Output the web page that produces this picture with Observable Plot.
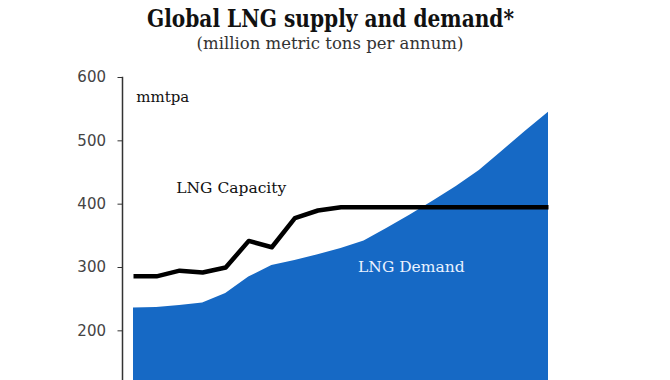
<!DOCTYPE html>
<html>
<head>
<meta charset="utf-8">
<script src="https://cdn.jsdelivr.net/npm/d3@7"></script>
<script src="https://cdn.jsdelivr.net/npm/@observablehq/plot@0.6"></script>
<style>
  html, body { margin: 0; padding: 0; background: #fff; overflow: hidden; }
  #page { width: 670px; height: 380px; overflow: hidden; position: relative; }
  #header { height: 60px; text-align: center; box-sizing: border-box; padding-top: 5px; }
  #title { font-family: "DejaVu Serif", serif; font-weight: bold; font-size: 24px; color: #111; line-height: 27px; display: inline-block; transform: scaleX(0.84); transform-origin: center; position: relative; left: -5px; white-space: nowrap; }
  #subtitle { font-family: "DejaVu Serif", serif; font-size: 16.5px; color: #333; line-height: 20px; position: relative; left: -5px; top: 2px; white-space: nowrap; }
  #chart { height: 320px; overflow: hidden; }
</style>
</head>
<body>
<div id="page">
  <div id="header">
    <div id="title">Global LNG supply and demand*</div>
    <div id="subtitle">(million metric tons per annum)</div>
  </div>
  <div id="chart"></div>
</div>
<script>
const years = [2012, 2013, 2014, 2015, 2016, 2017, 2018, 2019, 2020, 2021, 2022, 2023, 2024, 2025, 2026, 2027, 2028, 2029, 2030];
const capacity = [286, 286, 295, 292, 300, 342, 332, 378, 390, 395, 395, 395, 395, 395, 395, 395, 395, 395, 395];
const demand = [236, 237, 240, 244, 259, 285, 303, 311, 320, 330, 342, 362, 383, 405, 428, 453, 484, 515, 545];
const yTicks = [200, 300, 400, 500, 600];
const unitLabel = "mmtpa";
const capacityLabel = "LNG Capacity";
const demandLabel = "LNG Demand";

const rows = years.map((year, i) => ({year, capacity: capacity[i], demand: demand[i]}));

const chart = Plot.plot({
  width: 670,
  height: 437,
  marginTop: 17,
  marginBottom: 40,
  marginLeft: 122,
  marginRight: 122,
  insetLeft: 11,
  x: {domain: [years[0], years[years.length - 1]], axis: null},
  y: {domain: [0, 600], ticks: yTicks, tickSize: 4.5, tickPadding: 12, label: null},
  style: {fontFamily: "DejaVu Sans, sans-serif", fontSize: "15px", color: "#444", background: "white"},
  marks: [
    Plot.areaY(rows, {x: "year", y: "demand", fill: "#1669c5"}),
    Plot.line(rows, {x: "year", y: "capacity", stroke: "#000", strokeWidth: 4.5, strokeLinejoin: "round", strokeLinecap: "butt"}),
    Plot.axisY({ticks: yTicks, tickSize: 4.5, tickPadding: 12, fill: "#444", stroke: "#333", fontSize: 15, label: null}),
    Plot.frame({anchor: "left", stroke: "#333", strokeWidth: 1.5}),
    Plot.text([unitLabel], {x: years[0] + 0.12, y: 569, text: d => d, textAnchor: "start", fill: "#111", fontSize: 15, fontFamily: "DejaVu Serif, serif"}),
    Plot.text([capacityLabel], {x: 2016.24, y: 425, text: d => d, fill: "#111", fontSize: 15.5, fontFamily: "DejaVu Serif, serif"}),
    Plot.text([demandLabel], {x: 2024.05, y: 300, text: d => d, fill: "#eaf2ff", fontSize: 15.5, fontFamily: "DejaVu Serif, serif"})
  ]
});
document.getElementById("chart").appendChild(chart);
</script>
</body>
</html>
